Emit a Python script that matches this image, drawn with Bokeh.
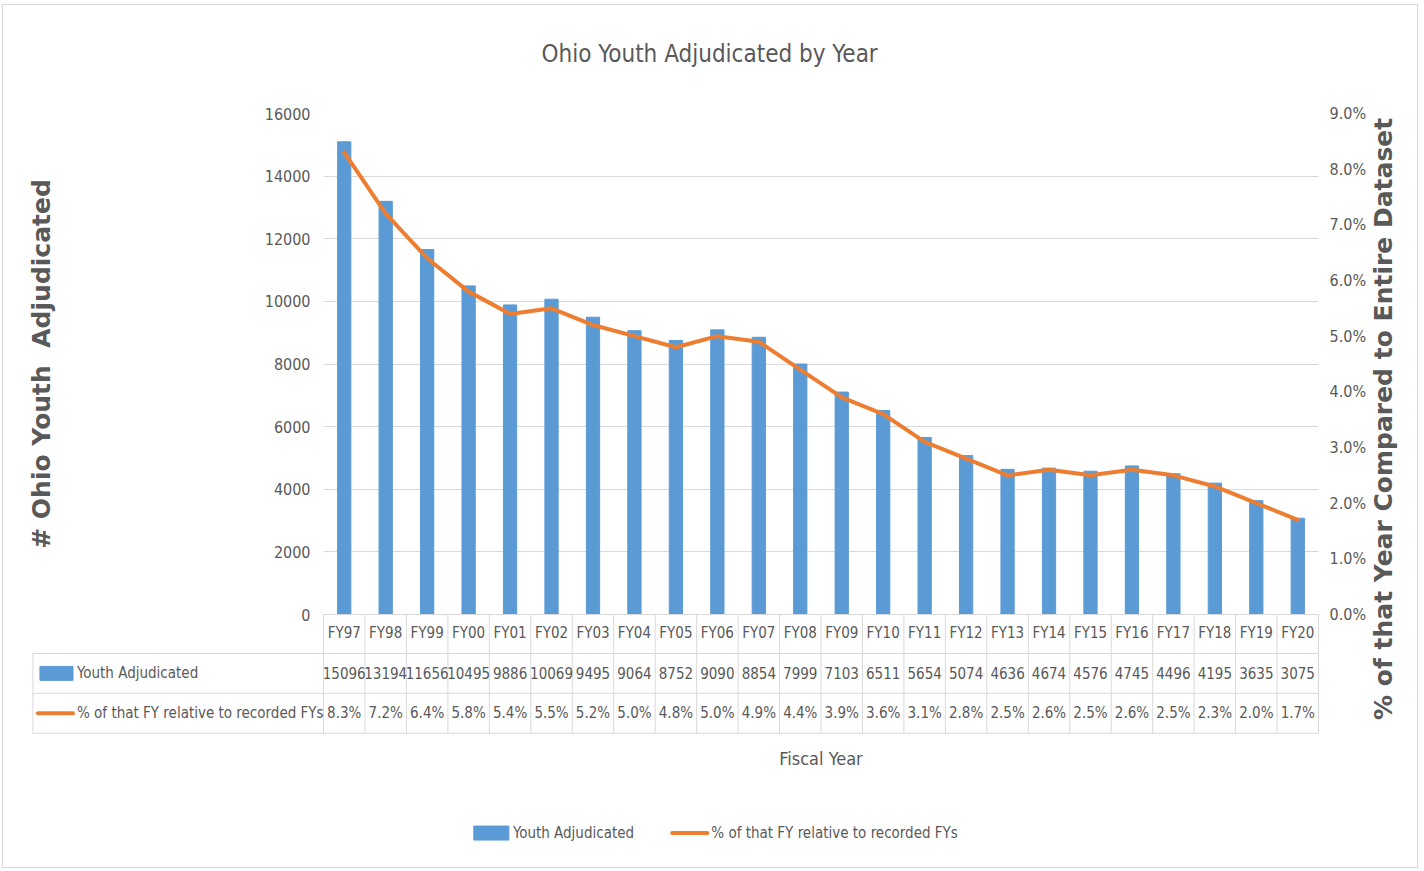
from math import pi
from bokeh.plotting import figure
from bokeh.models import (Range1d, LinearAxis, FixedTicker, PrintfTickFormatter, ColumnDataSource,
                          FactorRange, Title)
from bokeh.core.properties import value
from bokeh.embed import file_html
from bokeh.resources import INLINE

# ---- data -----------------------------------------------------------------
fiscal_years = ["FY97", "FY98", "FY99", "FY00", "FY01", "FY02", "FY03", "FY04",
                "FY05", "FY06", "FY07", "FY08", "FY09", "FY10", "FY11", "FY12",
                "FY13", "FY14", "FY15", "FY16", "FY17", "FY18", "FY19", "FY20"]
youth_adjudicated = [15096, 13194, 11656, 10495, 9886, 10069, 9495, 9064,
                     8752, 9090, 8854, 7999, 7103, 6511, 5654, 5074,
                     4636, 4674, 4576, 4745, 4496, 4195, 3635, 3075]
pct_of_total = [8.3, 7.2, 6.4, 5.8, 5.4, 5.5, 5.2, 5.0,
                4.8, 5.0, 4.9, 4.4, 3.9, 3.6, 3.1, 2.8,
                2.5, 2.6, 2.5, 2.6, 2.5, 2.3, 2.0, 1.7]
count_ticks = [0, 2000, 4000, 6000, 8000, 10000, 12000, 14000, 16000]
pct_ticks = [0, 1, 2, 3, 4, 5, 6, 7, 8, 9]

title_text = "Ohio Youth Adjudicated by Year"
left_title = "# Ohio Youth \u00a0Adjudicated"
right_title = "% of that Year Compared to Entire Dataset"
x_title = "Fiscal Year"
series_bar = "Youth Adjudicated"
series_line = "% of that FY relative to recorded FYs"

# ---- styles ---------------------------------------------------------------
NARROW = "DejaVu Sans Condensed"
BOLD = "DejaVu Sans"
GREY = "#595959"
BLUE = "#5b9bd5"
ORANGE = "#ed7d31"
GRID = "#d9d9d9"

# page-pixel layout of the plotting frame
FL, FR, FT, FB = 323, 1316, 111, 613
OX, OY = 3, 5          # canvas origin on the page (margin + border)
FIG_W, FIG_H = 1416, 864

n = len(fiscal_years)
COLW = (FR - FL) / n


def px_x(xp):
    """page x pixel -> categorical synthetic coordinate (layout helper)"""
    return (xp - FL) / COLW


src = ColumnDataSource(dict(
    fy=fiscal_years,
    youth=youth_adjudicated,
    pct=pct_of_total,
    youth_txt=[str(v) for v in youth_adjudicated],
    pct_txt=[f"{v:.1f}%" for v in pct_of_total],
))

p = figure(width=FIG_W, height=FIG_H,
           x_range=FactorRange(*fiscal_years), y_range=Range1d(0, 16000),
           output_backend="svg", toolbar_location=None, x_axis_location=None,
           min_border_left=FL - OX, min_border_right=OX + FIG_W - 2 - FR,
           min_border_top=FT - OY - 1, min_border_bottom=OY + FIG_H - 1 - FB)
p.margin = (OY - 1, 0, 0, OX - 1)
p.outline_line_color = None
p.background_fill_color = "white"
p.border_fill_color = "white"
p.styles = {"border": "1px solid #d9d9d9"}

for g in p.xgrid:
    g.grid_line_color = None
p.ygrid.grid_line_color = GRID
p.ygrid.ticker = FixedTicker(ticks=count_ticks)

# pixel-based helper range for layout of the surrounding texts / table
p.extra_y_ranges = {"pct": Range1d(0, 9), "px": Range1d(FB, FT)}

# left axis
ya = p.yaxis[0]
ya.ticker = FixedTicker(ticks=count_ticks)
ya.axis_line_color = None
ya.major_tick_line_color = None
ya.minor_tick_line_color = None
ya.major_label_standoff = 7
ya.major_label_text_font = NARROW
ya.major_label_text_font_size = "16px"
ya.major_label_text_color = GREY
ya.axis_label = left_title
ya.axis_label_text_font = BOLD
ya.axis_label_text_font_style = "bold"
ya.axis_label_text_font_size = "25px"
ya.axis_label_text_color = GREY
ya.axis_label_standoff = 206

# right axis
ra = LinearAxis(y_range_name="pct", ticker=FixedTicker(ticks=pct_ticks),
                formatter=PrintfTickFormatter(format="%.1f%%"))
ra.axis_line_color = None
ra.major_tick_line_color = None
ra.minor_tick_line_color = None
ra.major_label_standoff = 5
ra.major_label_text_font = NARROW
ra.major_label_text_font_size = "16px"
ra.major_label_text_color = GREY
p.add_layout(ra, "right")

# title (a thin spacer sits between the frame and the title)
p.title = None
p.add_layout(Title(text=" ", text_font_size="1px", standoff=11), "above")
p.add_layout(Title(text=title_text, align="left", offset=218, standoff=64,
                   text_font=NARROW, text_font_style="normal", text_font_size="24px",
                   text_color=GREY), "above")

bars = p.vbar(x="fy", top="youth", width=0.32, source=src, fill_color=BLUE, line_color=BLUE)
line = p.line(x="fy", y="pct", y_range_name="pct", source=src, line_color=ORANGE,
              line_width=4, line_join="round", line_cap="round")

OV = dict(level="overlay")
TXT = dict(text_font=value(NARROW), text_font_size="15px", text_color=GREY)

# right axis title
p.text(x=[px_x(1381)], y=[417], y_range_name="px", text=[right_title],
       angle=pi / 2, text_align="center", text_baseline="middle",
       text_font=value(BOLD), text_font_style="bold", text_font_size="25px",
       text_color=GREY, **OV)

# ---- data table below the chart -------------------------------------------
ROW_TOP, ROW1, ROW2, ROW3 = FB, 652, 692, 732
TL = px_x(33)
bounds = list(range(n + 1))
p.segment(x0=bounds, x1=bounds, y0=[ROW_TOP] * (n + 1), y1=[ROW3] * (n + 1),
          y_range_name="px", line_color=GRID, line_width=1, **OV)
p.segment(x0=[TL, TL, TL, 0, TL], x1=[n, n, n, n, TL],
          y0=[ROW1, ROW2, ROW3, ROW_TOP, ROW1], y1=[ROW1, ROW2, ROW3, ROW_TOP, ROW3],
          y_range_name="px", line_color=GRID, line_width=1, **OV)

for field, ys in (("fy", 632), ("youth_txt", 672), ("pct_txt", 712)):
    p.text(x="fy", y=ys, text=field, source=src, y_range_name="px",
           text_align="center", text_baseline="middle", **TXT, **OV)

# legend keys: inside the table (left column) and the legend below the chart
p.rect(x=[px_x(56.5), px_x(490.5)], y=[672, 832], width=[33 / COLW, 35 / COLW],
       height=[14, 14], y_range_name="px", fill_color=BLUE, line_color=BLUE, **OV)
p.segment(x0=[px_x(38), px_x(671)], x1=[px_x(73), px_x(706)], y0=[712, 832],
          y1=[712, 832], y_range_name="px", line_color=ORANGE, line_width=4,
          line_cap="round", **OV)
p.text(x=[px_x(77), px_x(77), px_x(512), px_x(710)], y=[672, 712, 832, 832],
       text=[series_bar, series_line, series_bar, series_line],
       y_range_name="px", text_align="left", text_baseline="middle", **TXT, **OV)

# x axis title
p.text(x=[n / 2], y=[757], y_range_name="px", text=[x_title], text_align="center",
       text_baseline="middle", text_font=value(NARROW), text_font_size="18px",
       text_color=GREY, **OV)

open("out.html", "w").write(file_html(p, INLINE))
